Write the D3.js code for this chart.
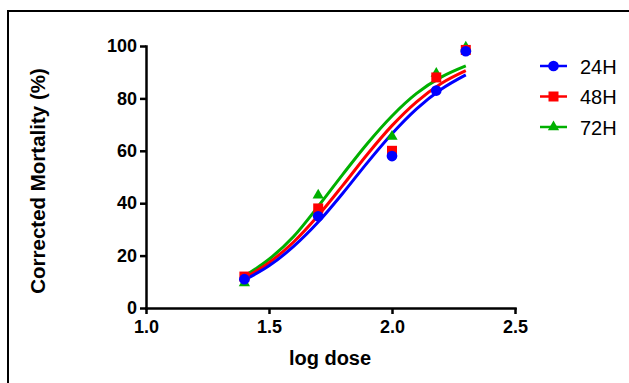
<!DOCTYPE html>
<meta charset="utf-8">
<style>
  body { margin: 0; background: #fff; }
  svg { display: block; font-family: "Liberation Sans", Arial, sans-serif; }
  .axis text { font-size: 18px; font-weight: bold; fill: #000; }
  .axis path, .axis line { stroke: #000; stroke-width: 2.5px; }
</style>
<script src="https://d3js.org/d3.v7.min.js"></script>
<div id="chart"></div>
<script>

// measured points (log dose vs corrected mortality %)
var doses = [1.4, 1.7, 2.0, 2.18, 2.3];
var series = ["24H", "48H", "72H"];
var mort24 = [11, 35, 58, 83, 98];
var mort48 = [12, 38, 60, 88, 98.5];
var mort72 = [9.5, 43, 65.5, 89.5, 99.5];

// fitted curves at these doses
var curveDoses = [1.4, 1.5, 1.6, 1.7, 1.8, 1.9, 2.0, 2.1, 2.2, 2.3];
var fit24 = [10.7, 16.1, 23.5, 32.8, 43.8, 55.5, 66.5, 76.0, 83.5, 89.0];
var fit48 = [11.5, 17.3, 25.2, 35.3, 46.8, 58.7, 69.6, 78.7, 85.7, 90.6];
var fit72 = [12.2, 18.6, 27.3, 38.8, 51.0, 62.8, 73.3, 81.9, 88.1, 92.4];

var xTicks = [1.0, 1.5, 2.0, 2.5];
var yTicks = [0, 20, 40, 60, 80, 100];

var colors = ["#0000ff", "#ff0000", "#00b000"];
var symbols = [d3.symbolCircle, d3.symbolSquare, d3.symbolTriangle];
var symSizes = [90, 100, 55];

var W = 629, H = 383;

var svg = d3.select("#chart").append("svg")
    .attr("width", W)
    .attr("height", H);

// frame (only top and left edges are visible)
svg.append("path")
    .attr("d", "M8,383V11H629")
    .attr("fill", "none")
    .attr("stroke", "#000")
    .attr("stroke-width", 2);

var x = d3.scaleLinear().domain([1, 2.5]).range([146, 515]);
var y = d3.scaleLinear().domain([0, 100]).range([308, 46]);

svg.append("g")
    .attr("class", "axis")
    .attr("transform", "translate(0,308)")
    .call(d3.axisBottom(x).tickValues(xTicks).tickFormat(d3.format(".1f"))
      .tickSize(6).tickSizeOuter(0).tickPadding(6));

svg.append("g")
    .attr("class", "axis")
    .attr("transform", "translate(146,0)")
    .call(d3.axisLeft(y).tickValues(yTicks).tickSize(6).tickSizeOuter(0).tickPadding(3));

svg.selectAll(".axis path").attr("stroke-linecap", "square");

// axis titles
svg.append("text")
    .attr("x", 330).attr("y", 365)
    .attr("text-anchor", "middle")
    .style("font-size", "20px").style("font-weight", "bold")
    .text("log dose");

svg.append("text")
    .attr("transform", "translate(45,181)rotate(-90)")
    .attr("text-anchor", "middle")
    .style("font-size", "20.5px").style("font-weight", "bold")
    .text("Corrected Mortality (%)");

var fits = [fit24, fit48, fit72];
var pts = [mort24, mort48, mort72];

var line = d3.line()
    .x(function(d) { return x(d[0]); })
    .y(function(d) { return y(d[1]); })
    .curve(d3.curveMonotoneX);

// curves: 72H first, 24H on top
[2, 1, 0].forEach(function(i) {
  svg.append("path")
      .datum(curveDoses.map(function(d, j) { return [d, fits[i][j]]; }))
      .attr("fill", "none")
      .attr("stroke", colors[i])
      .attr("stroke-width", 3)
      .attr("d", line);
});

[2, 1, 0].forEach(function(i) {
  svg.selectAll(".m" + i)
    .data(doses.map(function(d, j) { return [d, pts[i][j]]; }))
    .enter()
    .append("path")
      .attr("transform", function(d) { return "translate(" + x(d[0]) + "," + y(d[1]) + ")"; })
      .attr("d", d3.symbol().type(symbols[i]).size(symSizes[i]))
      .attr("fill", colors[i]);
});

// legend
var legend = svg.append("g");
series.forEach(function(s, i) {
  var ly = 66 + i * 30.5;
  legend.append("line")
      .attr("x1", 540).attr("x2", 567)
      .attr("y1", ly).attr("y2", ly)
      .attr("stroke", colors[i]).attr("stroke-width", 2.5);
  legend.append("path")
      .attr("transform", "translate(553.5," + ly + ")")
      .attr("d", d3.symbol().type(symbols[i]).size(symSizes[i]))
      .attr("fill", colors[i]);
  legend.append("text")
      .attr("x", 580).attr("y", ly + 7.5)
      .style("font-size", "20px")
      .text(s);
});

</script>
